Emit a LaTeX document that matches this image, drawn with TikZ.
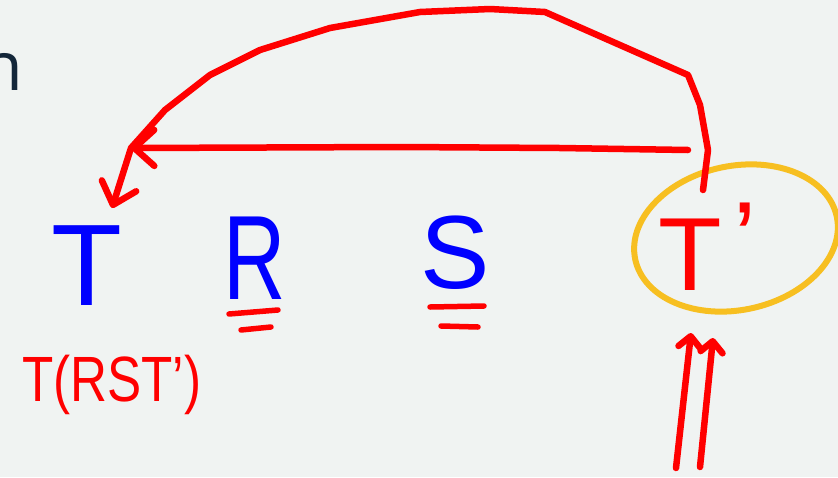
\documentclass[tikz,border=0pt]{standalone}
\usepackage{fontspec}
\setmainfont{Liberation Sans}
\newfontfamily\titlefont{Open Sans}
\usetikzlibrary{arrows.meta,shapes.geometric}
\definecolor{bgcol}{RGB}{240,243,242}
\definecolor{inkred}{RGB}{255,0,0}
\definecolor{inkblue}{RGB}{0,0,255}
\definecolor{inkyellow}{RGB}{247,191,33}
\definecolor{navy}{RGB}{19,38,57}
\tikzset{
  redline/.style={draw=inkred, line width=6.5pt, line cap=round, line join=round},
  blueletter/.style={text=inkblue, inner sep=0pt, anchor=base},
  redletter/.style={text=inkred, inner sep=0pt},
  barbtip/.style={-{Straight Barb[length=20pt,width=36pt,round]}},
  uptip/.style={-{Straight Barb[length=11pt,width=22pt,round]}},
}
\begin{document}
\begin{tikzpicture}[x=1pt,y=-1pt]
\fill[bgcol] (0,0) rectangle (838,477);
\useasboundingbox (0,0) rectangle (838,477);

% cut-off title text
\node[text=navy, font=\titlefont\fontsize{68}{70}\selectfont, inner sep=0pt, anchor=base east] (title) at (23,90) {n};

% letters
\node[blueletter, font=\fontsize{116}{116}\selectfont] (T) at (87,305) {T};
\node[blueletter, font=\fontsize{120}{120}\selectfont, xscale=0.72] (R) at (255,299) {R};
\node[blueletter, font=\fontsize{104}{104}\selectfont] (S) at (455,288) {S};
\node[redletter, font=\fontsize{104}{104}\selectfont, anchor=base west] (Tp) at (658,290) {T\hspace{12pt}\raisebox{16pt}{'}};
\node[redletter, font=\fontsize{64}{64}\selectfont, anchor=base west, xscale=0.8] (label) at (22,401) {T(RST')};

% underlines
\coordinate (r1a) at (229,314); \coordinate (r1b) at (278,310);
\coordinate (r2a) at (241,330); \coordinate (r2b) at (271,327);
\coordinate (s1a) at (430,307); \coordinate (s1b) at (484,306);
\coordinate (s2a) at (441,326); \coordinate (s2b) at (478,327);
\draw[redline, line width=5.5pt] (r1a) -- (r1b);
\draw[redline, line width=5.5pt] (r2a) -- (r2b);
\draw[redline, line width=5.5pt] (s1a) -- (s1b);
\draw[redline, line width=5.5pt] (s2a) -- (s2b);

% ellipse around T'
\node[draw=inkyellow, line width=6pt, ellipse, minimum width=206pt, minimum height=144pt, rotate=12, inner sep=0pt] (ring) at (736,238) {};

% arrows
\coordinate (j) at (131,148);
\coordinate (tArr) at (112,208);
\coordinate (c0) at (703,190);
\coordinate (h0) at (688,150);
\draw[redline, barbtip] (c0) -- (708,150) -- (700,105) -- (688,75) -- (545,12) -- (490,9) -- (420,12) -- (330,28) -- (260,50) -- (210,75) -- (165,110) -- (j) -- (tArr);
\draw[redline, barbtip] (h0) -- (560,148) -- (400,147) -- (j);

\coordinate (b1) at (676,468);
\coordinate (b2) at (700,467);
\coordinate (a1) at (691,333);
\coordinate (a2) at (713,338);
\draw[redline, uptip] (b1) -- (a1);
\draw[redline, uptip] (b2) -- (a2);
\end{tikzpicture}
\end{document}
